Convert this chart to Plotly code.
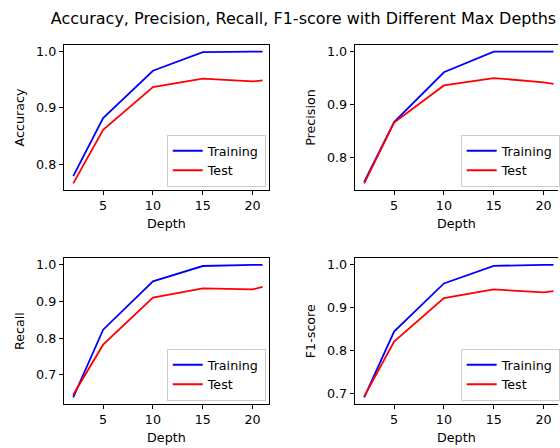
import plotly.graph_objects as go

depths = [2, 5, 10, 15, 20, 21]

acc_train = [0.779, 0.882, 0.966, 0.999, 1.0, 1.0]
acc_test = [0.766, 0.861, 0.937, 0.952, 0.947, 0.949]

prec_train = [0.754, 0.867, 0.961, 1.0, 1.0, 1.0]
prec_test = [0.751, 0.866, 0.936, 0.950, 0.942, 0.939]

rec_train = [0.638, 0.823, 0.955, 0.997, 1.0, 1.0]
rec_test = [0.645, 0.782, 0.911, 0.936, 0.933, 0.940]

f1_train = [0.692, 0.845, 0.957, 0.998, 1.0, 1.0]
f1_test = [0.694, 0.822, 0.923, 0.943, 0.936, 0.939]

metric_names = ["Accuracy", "Precision", "Recall", "F1-score"]
train_series = [acc_train, prec_train, rec_train, f1_train]
test_series = [acc_test, prec_test, rec_test, f1_test]
y_ticks = [
    [0.8, 0.9, 1.0],
    [0.8, 0.9, 1.0],
    [0.7, 0.8, 0.9, 1.0],
    [0.7, 0.8, 0.9, 1.0],
]
x_ticks = [5, 10, 15, 20]

W, H = 560, 448
FONT = "DejaVu Sans"
FS = 12.7

# panel boxes in pixels: (left, right, top, bottom)
boxes = [
    (64, 270, 45, 190),
    (356, 560, 45, 190),
    (64, 270, 258.3, 404),
    (356, 560, 258.3, 404),
]
legend_pos = [
    (266.7, 187),
    (561.7, 187),
    (266.7, 401),
    (561.7, 401),
]

fig = go.Figure()
layout = dict(
    width=W, height=H,
    margin=dict(l=0, r=0, t=0, b=0),
    paper_bgcolor="white", plot_bgcolor="white",
    font=dict(family=FONT, size=FS, color="black"),
    title=dict(text="Accuracy, Precision, Recall, F1-score with Different Max Depths",
               x=303.5 / W, xanchor="center", y=1 - 18 / H, yanchor="middle",
               font=dict(family=FONT, size=16, color="black")),
)

for i in range(4):
    n = "" if i == 0 else str(i + 1)
    xa, ya = "x" + n, "y" + n
    lg = "legend" + n
    tr, te = train_series[i], test_series[i]
    fig.add_trace(go.Scatter(x=depths, y=tr, mode="lines", name="Training",
                             line=dict(color="#0000ff", width=1.8),
                             xaxis=xa, yaxis=ya, legend=lg))
    fig.add_trace(go.Scatter(x=depths, y=te, mode="lines", name="Test",
                             line=dict(color="#ff0000", width=1.8),
                             xaxis=xa, yaxis=ya, legend=lg))
    l, r, t, b = boxes[i]
    dmin = min(min(tr), min(te))
    dmax = max(max(tr), max(te))
    span = dmax - dmin
    yr = [dmin - 0.05 * span, dmax + 0.05 * span]
    xlo = 1.05
    xr = [xlo, xlo + (r - l) / 10.0]
    right_cut = r >= W
    layout["xaxis" + n] = dict(
        domain=[l / W, r / W], range=xr, anchor=ya,
        tickvals=x_ticks, ticks="outside", ticklen=4, tickcolor="black",
        showline=True, linecolor="black", linewidth=1, mirror=True,
        showgrid=False, zeroline=False, automargin=False,
        tickfont=dict(family=FONT, size=FS, color="black"),
        title=dict(text="Depth", standoff=6, font=dict(family=FONT, size=FS, color="black")),
    )
    layout["yaxis" + n] = dict(
        domain=[1 - b / H, 1 - t / H], range=yr, anchor=xa,
        tickvals=y_ticks[i], tickformat=".1f", ticks="outside", ticklen=4, tickcolor="black",
        showline=True, linecolor="black", linewidth=1, mirror=(False if right_cut else True),
        showgrid=False, zeroline=False, automargin=False,
        tickfont=dict(family=FONT, size=FS, color="black"),
        title=dict(text=metric_names[i], standoff=8, font=dict(family=FONT, size=FS, color="black")),
    )
    lx, ly = legend_pos[i]
    layout[lg] = dict(
        x=lx / W, y=1 - ly / H, xanchor="right", yanchor="bottom",
        bgcolor="rgba(255,255,255,0.8)", bordercolor="#cccccc", borderwidth=1,
        font=dict(family=FONT, size=FS, color="black"),
        tracegroupgap=0, itemwidth=30,
    )

fig.update_layout(**layout)
fig.write_html("out.html")
